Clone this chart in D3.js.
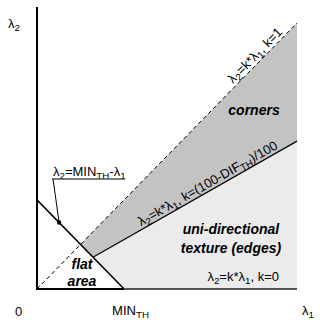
<!DOCTYPE html>
<html><head><meta charset="utf-8">
<script src="https://cdn.jsdelivr.net/npm/d3@7"></script>
<style>body{margin:0;background:#fff}svg{display:block}text{font-family:"Liberation Sans",Arial,sans-serif}</style>
</head><body><div id="c"></div>
<script>
// ---- data ----
const domainX = [0, 1];
const domainY = [0, 1];
const kSlopes = [1, 0.556, 0];           // k=1, k=(100-DIF_TH)/100, k=0
const minTh = 0.335;                      // MIN_TH threshold
const xTickVals = [0, minTh];
const xTickLabels = ["0", "MIN"];
const regionNames = ["corners", "uni-directional", "texture (edges)", "flat", "area"];
const annotationDot = [0.085];             // lambda1 of leader dot on MIN line

const W = 322, H = 320;
const svg = d3.select("#c").append("svg").attr("width", W).attr("height", H);
const x = d3.scaleLinear().domain(domainX).range([37, 297]);
const y = d3.scaleLinear().domain(domainY).range([289, 23]);

const k1 = kSlopes[0], kd = kSlopes[1];
const pA = [minTh / (1 + k1), k1 * minTh / (1 + k1)];
const pB = [minTh / (1 + kd), kd * minTh / (1 + kd)];
const line = d3.line().x(d => x(d[0])).y(d => y(d[1]));

// regions
svg.append("path").attr("d", line([pA, [1, k1], [1, kd], pB]) + "Z").attr("fill", "#c3c3c3");
svg.append("path").attr("d", line([pB, [1, kd], [1, 0], [minTh, 0]]) + "Z").attr("fill", "#ebebeb");

// k=1 dashed line
svg.append("path").attr("d", line([[0, 0], [1, k1]])).attr("stroke", "#000").attr("stroke-width", 1)
  .attr("stroke-dasharray", "4,3").attr("fill", "none");
// k line
svg.append("path").attr("d", line([pB, [1, kd]])).attr("stroke", "#000").attr("stroke-width", 1.2).attr("fill", "none");
// MIN line
svg.append("path").attr("d", line([[0, minTh], [minTh, 0]])).attr("stroke", "#000").attr("stroke-width", 1.5).attr("fill", "none");

// axes
svg.append("line").attr("x1", x(0)).attr("x2", x(0)).attr("y1", 7).attr("y2", y(0) + 1).attr("stroke", "#000").attr("stroke-width", 2);
svg.append("line").attr("x1", x(0)).attr("x2", x(minTh)).attr("y1", y(0)).attr("y2", y(0)).attr("stroke", "#000").attr("stroke-width", 2);
svg.append("line").attr("x1", x(minTh)).attr("x2", x(1)).attr("y1", y(0)).attr("y2", y(0)).attr("stroke", "#555").attr("stroke-width", 2);

// helper for subscripted text
function addText(sel, parts, size) {
  let shift = 0;
  parts.forEach(p => {
    const isSub = typeof p !== "string";
    const target = isSub ? size * 0.2 : 0;
    sel.append("tspan").attr("dy", target - shift)
      .attr("font-size", isSub ? size * 0.75 : size)
      .text(isSub ? p.sub : p);
    shift = target;
  });
}
const FS = 13;

// axis labels
svg.append("text").attr("x", 15).attr("y", 316).attr("font-size", FS).text(xTickLabels[0]);
const lm = svg.append("text").attr("x", x(xTickVals[1]) - 12).attr("y", 315).attr("font-size", FS);
addText(lm, [xTickLabels[1], {sub: "TH"}], FS);
const l1 = svg.append("text").attr("x", 302).attr("y", 315).attr("font-size", FS);
addText(l1, ["λ", {sub: "1"}], FS);
const l2 = svg.append("text").attr("x", 8).attr("y", 28).attr("font-size", FS);
addText(l2, ["λ", {sub: "2"}], FS);

// rotated label along line
function alongLabel(k, xEnd, parts, off) {
  const px = x(xEnd), py = y(k * xEnd);
  const ang = -Math.atan2(y(0) - y(k), x(1) - x(0)) * 180 / Math.PI;
  const t = svg.append("text").attr("transform", `translate(${px},${py}) rotate(${ang})`)
    .attr("text-anchor", "end").attr("y", -off).attr("font-size", FS);
  addText(t, parts, FS);
}
alongLabel(k1, 0.955, ["λ", {sub: "2"}, "=k*λ", {sub: "1"}, ", k=1"], 3);
alongLabel(kd, 0.935, ["λ", {sub: "2"}, "=k*λ", {sub: "1"}, ", k=(100-DIF", {sub: "TH"}, ")/100"], 3);

// k=0 label
const l0 = svg.append("text").attr("x", 279).attr("y", 281).attr("font-size", FS).attr("text-anchor", "end");
addText(l0, ["λ", {sub: "2"}, "=k*λ", {sub: "1"}, ", k=0"], FS);

// region names
const bi = (tx, ty, s) => svg.append("text").attr("x", tx).attr("y", ty).attr("text-anchor", "middle")
  .attr("font-size", 14).attr("font-weight", "bold").attr("font-style", "italic").text(s);
bi(254, 115, regionNames[0]);
bi(231, 234, regionNames[1]);
bi(231, 253, regionNames[2]);
bi(82, 269, regionNames[3]);
bi(82, 286, regionNames[4]);

// MIN line annotation
const dx = annotationDot[0], dy = minTh - dx;
const la = svg.append("text").attr("x", 53).attr("y", 176).attr("font-size", FS);
addText(la, ["λ", {sub: "2"}, "=MIN", {sub: "TH"}, "-λ", {sub: "1"}], FS);
svg.append("line").attr("x1", 52).attr("x2", 125).attr("y1", 179).attr("y2", 179).attr("stroke", "#555").attr("stroke-width", 1.5);
svg.append("line").attr("x1", 53).attr("y1", 179).attr("x2", x(dx)).attr("y2", y(dy)).attr("stroke", "#000").attr("stroke-width", 1);
svg.append("circle").attr("cx", x(dx)).attr("cy", y(dy)).attr("r", 2.2).attr("fill", "#000");
</script></body></html>
